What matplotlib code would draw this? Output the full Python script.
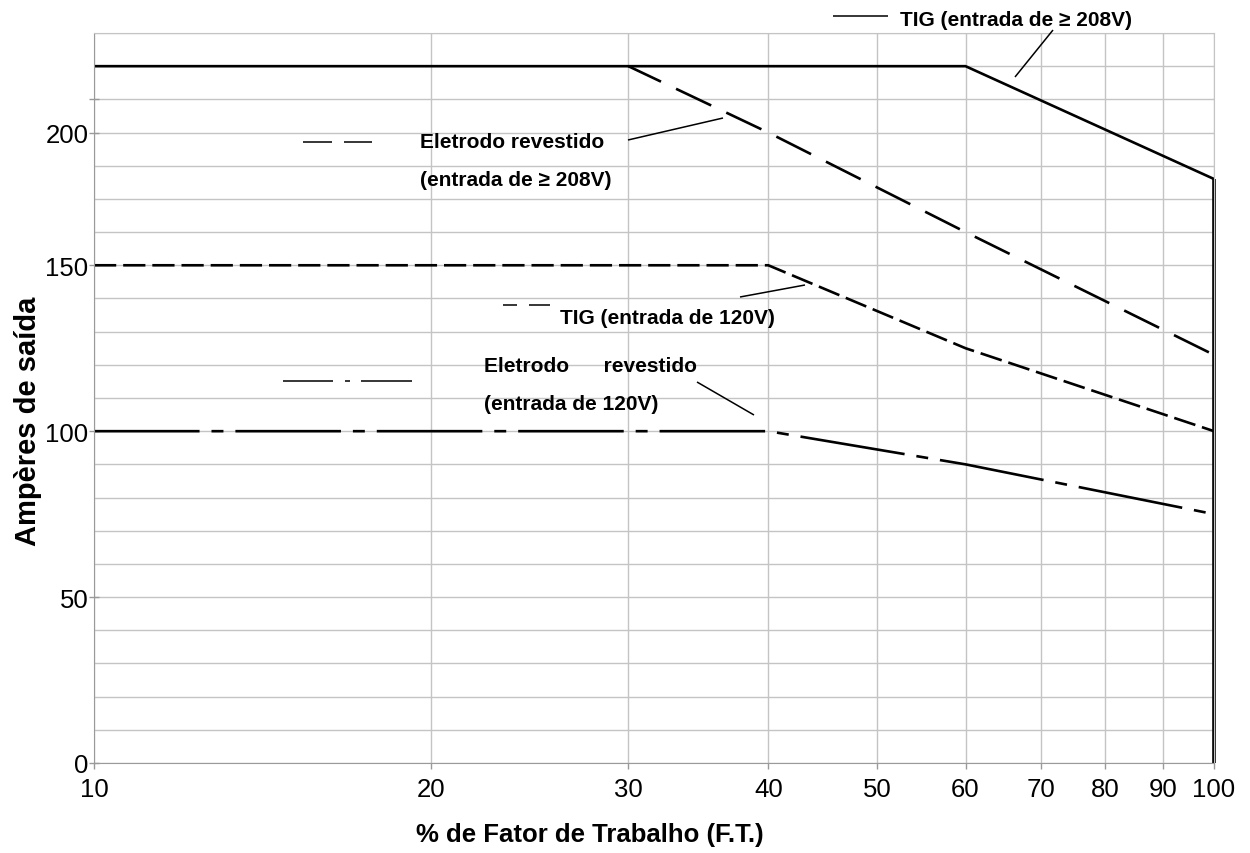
import matplotlib
matplotlib.use('Agg')
import matplotlib.pyplot as plt
from matplotlib.lines import Line2D
import matplotlib.ticker as mticker

plt.rcParams['font.family'] = ['Liberation Sans', 'DejaVu Sans']
plt.rcParams['lines.scale_dashes'] = False

# ---- data -------------------------------------------------------------
duty_ticks = [10, 20, 30, 40, 50, 60, 70, 80, 90, 100]
duty_labels = ['10', '20', '30', '40', '50', '60', '70', '80', '90', '100']
# (the original chart prints its "200" label one grid line low, at 190 A)
amp_ticks = [0, 50, 100, 150, 190, 200]
amp_labels = ['0', '50', '100', '150', '200', '']

tig_hi_x = [10, 60, 100]
tig_hi_y = [210, 210, 176]
stick_hi_x = [30, 40, 60, 100]
stick_hi_y = [210, 190, 160, 123]
tig_lo_x = [10, 40, 60, 100]
tig_lo_y = [150, 150, 125, 100]
stick_lo_x = [10, 40, 60, 100]
stick_lo_y = [100, 100, 90, 75]

W, H = 1250, 854
fig = plt.figure(figsize=(W / 100, H / 100), dpi=100)
ax = fig.add_axes([94 / W, 90 / H, (1214 - 94) / W, (764 - 34) / H])

ax.set_xscale('log')
ax.set_xlim(10, 100)
ax.set_ylim(0, 220)

ax.xaxis.set_major_locator(mticker.FixedLocator(duty_ticks))
ax.xaxis.set_major_formatter(mticker.FixedFormatter(duty_labels))
ax.xaxis.set_minor_locator(mticker.NullLocator())
ax.yaxis.set_major_locator(mticker.FixedLocator(amp_ticks))
ax.yaxis.set_major_formatter(mticker.FixedFormatter(amp_labels))
ax.yaxis.set_minor_locator(mticker.MultipleLocator(10))

grid_c = '#c4c4c4'
ax.grid(True, which='major', axis='x', color=grid_c, lw=1.0)
ax.grid(True, which='both', axis='y', color=grid_c, lw=1.0)
ax.set_axisbelow(True)

ax.tick_params(axis='x', which='major', direction='out', length=4, width=1,
               color='#999999', labelsize=18.5, pad=6)
ax.tick_params(axis='y', which='major', direction='inout', length=7, width=1,
               color='#999999', labelsize=18.5, pad=0.5)
ax.tick_params(axis='y', which='minor', length=0)

for s in ['left', 'bottom']:
    ax.spines[s].set_color('#9a9a9a')
for s in ['top', 'right']:
    ax.spines[s].set_color(grid_c)

lw = 1.9
ax.plot(tig_hi_x, tig_hi_y, color='black', lw=lw, solid_capstyle='butt')
ax.plot(stick_hi_x, stick_hi_y, color='black', lw=lw,
        linestyle=(2, (28, 12)), dash_capstyle='butt')
ax.plot(tig_lo_x, tig_lo_y, color='black', lw=lw,
        linestyle=(0, (16, 5)), dash_capstyle='butt')
ax.plot(stick_lo_x, stick_lo_y, color='black', lw=lw,
        linestyle=(0, (76, 8.6, 8.6, 8.6)), dash_capstyle='butt')
# vertical drop at 100 % duty cycle
ax.plot([tig_hi_x[-1], tig_hi_x[-1]], [0, tig_hi_y[-1]], color='black',
        lw=2.6, clip_on=False, solid_capstyle='butt')


def P(x, y):
    return (x / W, 1 - y / H)


def seg(x0, y0, x1, y1, ls='-', lw=1.1):
    (a, b), (c, d) = P(x0, y0), P(x1, y1)
    fig.add_artist(Line2D([a, c], [b, d], transform=fig.transFigure,
                          color='black', lw=lw, linestyle=ls,
                          solid_capstyle='butt'))


fs = 15
def label(x, y, s):
    fig.text(*P(x, y), s, fontsize=fs, fontweight='bold', ha='left',
             va='center')

# TIG >= 208 V
seg(833, 17, 888, 17)
label(900, 20, 'TIG (entrada de ≥ 208V)')
seg(1053, 31, 1015, 78)

# Eletrodo revestido >= 208 V
seg(303, 143, 332, 143)
seg(344, 143, 372, 143)
label(420, 142, 'Eletrodo revestido')
label(420, 180, '(entrada de ≥ 208V)')
seg(628, 141, 723, 119)

# TIG 120 V
seg(503, 306, 517, 306)
seg(529, 306, 550, 306)
label(560, 319, 'TIG (entrada de 120V)')
seg(740, 298, 805, 286)

# Eletrodo revestido 120 V
seg(283, 382, 333, 382)
seg(345, 382, 350, 382)
seg(361, 382, 412, 382)
label(484, 367, 'Eletrodo      revestido')
label(484, 405, '(entrada de 120V)')
seg(697, 383, 754, 416)

fig.text(*P(590, 835), '% de Fator de Trabalho (F.T.)', fontsize=18.5,
         fontweight='bold', ha='center', va='center')
fig.text(*P(28, 421), 'Ampères de saída', fontsize=21, fontweight='bold',
         ha='center', va='center', rotation=90)

fig.savefig('out.png', dpi=100)
